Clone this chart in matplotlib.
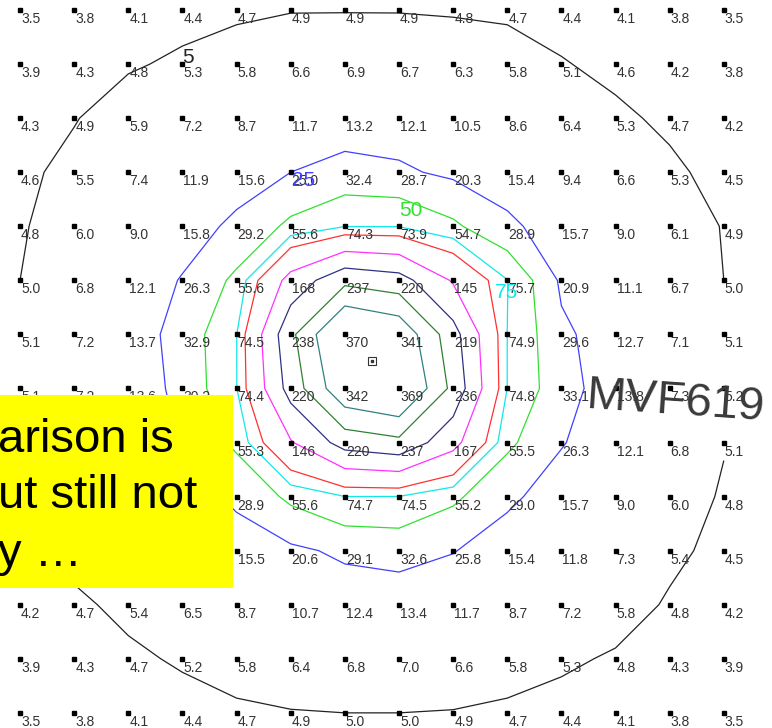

############################ ライブラリ ###################################
import numpy as np
import matplotlib
matplotlib.use("Agg")
import matplotlib.pyplot as plt
from matplotlib.patches import Rectangle
#######################################################################

plt.rcParams['font.family'] = ['Liberation Sans', 'DejaVu Sans']

# 格子点の濃度 (上の行から順に, 14 x 14)
row00 = [3.5, 3.8, 4.1, 4.4, 4.7, 4.9, 4.9, 4.9, 4.8, 4.7, 4.4, 4.1, 3.8, 3.5]
row01 = [3.9, 4.3, 4.8, 5.3, 5.8, 6.6, 6.9, 6.7, 6.3, 5.8, 5.1, 4.6, 4.2, 3.8]
row02 = [4.3, 4.9, 5.9, 7.2, 8.7, 11.7, 13.2, 12.1, 10.5, 8.6, 6.4, 5.3, 4.7, 4.2]
row03 = [4.6, 5.5, 7.4, 11.9, 15.6, 25.0, 32.4, 28.7, 20.3, 15.4, 9.4, 6.6, 5.3, 4.5]
row04 = [4.8, 6.0, 9.0, 15.8, 29.2, 55.6, 74.3, 73.9, 54.7, 28.9, 15.7, 9.0, 6.1, 4.9]
row05 = [5.0, 6.8, 12.1, 26.3, 55.6, 168, 237, 220, 145, 75.7, 20.9, 11.1, 6.7, 5.0]
row06 = [5.1, 7.2, 13.7, 32.9, 74.5, 238, 370, 341, 219, 74.9, 29.6, 12.7, 7.1, 5.1]
row07 = [5.1, 7.2, 13.6, 30.2, 74.4, 220, 342, 369, 236, 74.8, 33.1, 13.8, 7.3, 5.2]
row08 = [5.0, 6.8, 12.1, 26.3, 55.3, 146, 220, 237, 167, 55.5, 26.3, 12.1, 6.8, 5.1]
row09 = [4.8, 6.0, 9.0, 15.8, 28.9, 55.6, 74.7, 74.5, 55.2, 29.0, 15.7, 9.0, 6.0, 4.8]
row10 = [4.6, 5.5, 7.4, 11.9, 15.5, 20.6, 29.1, 32.6, 25.8, 15.4, 11.8, 7.3, 5.4, 4.5]
row11 = [4.2, 4.7, 5.4, 6.5, 8.7, 10.7, 12.4, 13.4, 11.7, 8.7, 7.2, 5.8, 4.8, 4.2]
row12 = [3.9, 4.3, 4.7, 5.2, 5.8, 6.4, 6.8, 7.0, 6.6, 5.8, 5.3, 4.8, 4.3, 3.9]
row13 = [3.5, 3.8, 4.1, 4.4, 4.7, 4.9, 5.0, 5.0, 4.9, 4.7, 4.4, 4.1, 3.8, 3.5]

# 等値線のレベルと色
levels = [5, 25, 50, 75, 100, 150, 200, 250, 300]
level_colors = ['#222222', '#4040ff', '#30e030', '#10e8e8', '#ff3030',
                '#ff30ff', '#303080', '#308030', '#308080']

# ラベルを付けるレベル
label_levels = [5, 25, 50, 75]
label_x = [3.10, 5.23, 7.22, 8.99]
label_y = [0.88, 3.16, 3.70, 5.23]

# 汚染源の位置
source_x = 6.5
source_y = 6.5
source_name = "MVF619"

note_lines = ["arison is", "ut still not", "y \u2026"]


#########################################################################################
def main():
    z = np.array([row00, row01, row02, row03, row04, row05, row06,
                  row07, row08, row09, row10, row11, row12, row13])
    ny, nx = z.shape
    xs = np.arange(nx)
    ys = np.arange(ny)

    fig = plt.figure(figsize=(7.72, 7.28), dpi=100)
    ax = fig.add_axes([0, 0, 1, 1])
    ax.set_xlim(-0.37, 13.89)
    ax.set_ylim(13.28, -0.185)
    ax.axis("off")

    #等値線
    ax.contour(xs, ys, z, levels=levels, colors=level_colors, linewidths=0.9)

    for lv, lx, ly in zip(label_levels, label_x, label_y):
        col = level_colors[levels.index(lv)]
        ax.text(lx, ly, str(lv), color=col, fontsize=15,
                ha="center", va="center", zorder=4)

    #格子点と値
    gx, gy = np.meshgrid(xs, ys)
    ax.plot(gx.ravel(), gy.ravel(), "s", color="black", markersize=2.2,
            linestyle="none", zorder=3)
    for j in range(ny):
        for i in range(nx):
            v = z[j, i]
            txt = f"{v:.0f}" if v >= 100 else f"{v:.1f}"
            ax.annotate(txt, (i, j), xytext=(1, -2), textcoords="offset pixels",
                        ha="left", va="top", fontsize=10, color="#333333",
                        zorder=3)

    #汚染源
    ax.plot(source_x, source_y, "s", markersize=5.5, markerfacecolor="white",
            markeredgecolor="#333333", markeredgewidth=0.8, zorder=5)
    ax.plot(source_x, source_y, "s", markersize=1.5, color="#333333", zorder=6)
    ax.text(675 / 772, 1 - 402 / 728, source_name, transform=fig.transFigure,
            fontsize=34, color="#3a3a3a", ha="center", va="center",
            rotation=-4, rotation_mode="anchor", zorder=7)

    #黄色のメモ
    box = Rectangle((0, 1 - 588 / 728), 233 / 772, 193 / 728,
                    transform=fig.transFigure, facecolor="#ffff00",
                    edgecolor="none", zorder=8)
    fig.patches.append(box)
    baselines = [452, 508, 566]
    for line, b in zip(note_lines, baselines):
        fig.text(-2 / 772, 1 - b / 728, line, fontsize=34, color="black",
                 ha="left", va="baseline", zorder=9)

    fig.savefig("out.png", dpi=100)


if __name__ == "__main__":
    main()
